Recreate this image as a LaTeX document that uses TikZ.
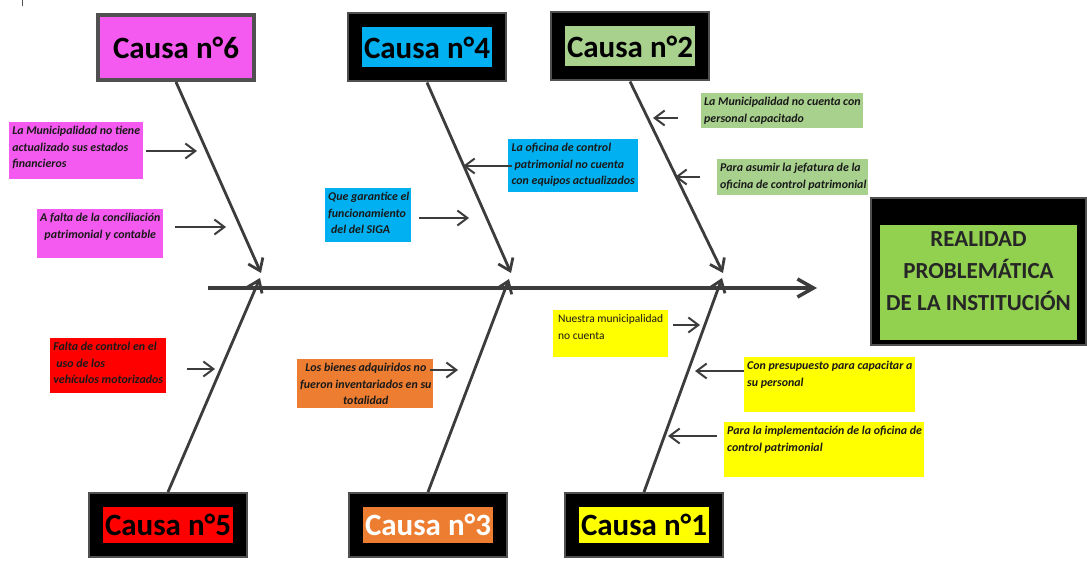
\documentclass[tikz,border=0pt]{standalone}
\usepackage{fontspec}
\setmainfont{Carlito}
\usetikzlibrary{arrows.meta}

\definecolor{pinkbox}{HTML}{F55AF0}
\definecolor{bluebox}{HTML}{00B0F0}
\definecolor{greenbox}{HTML}{A9D18E}
\definecolor{limebox}{HTML}{92D050}
\definecolor{redbox}{HTML}{FF0000}
\definecolor{orangebox}{HTML}{ED7D31}
\definecolor{yellowbox}{HTML}{FFFF00}
\definecolor{bonegray}{HTML}{3C3C3C}
\definecolor{framegray}{HTML}{505050}

% text block of a sub-cause box: [column] {width} {height} {lines}
\newcommand{\subtext}[4][l]{\parbox[t][\dimexpr#3pt-6pt\relax][t]{\dimexpr#2pt-6pt\relax}{\vspace*{-2pt}\centering\begin{tabular}{@{}#1@{}}#4\end{tabular}}}

\begin{document}
\begin{tikzpicture}[x=1pt,y=-1pt,
  causefont/.style={font=\fontsize{31}{36}\selectfont\bfseries},
  cause/.style={causefont, inner sep=0pt, minimum width=130pt, minimum height=40pt,
    outer sep=15pt, preaction={draw=framegray, line width=30pt},
    preaction={draw=black, line width=26pt}},
  lowcause/.style={cause, minimum height=36pt},
  subcause/.style={anchor=north west, inner sep=3pt,
    font=\fontsize{11.9}{16.5}\selectfont\bfseries\itshape, text=black!90},
  spine/.style={draw=bonegray, line width=3.5pt, -{Straight Barb[length=16pt,width=18pt]}},
  bone/.style={draw=bonegray, line width=2.8pt, -{Straight Barb[length=11pt,width=16pt]}},
  subarrow/.style={draw=bonegray, line width=2pt, -{Straight Barb[length=10pt,width=15pt]}}]
\useasboundingbox (0,0) rectangle (1087,561);
\draw[framegray, line width=1pt] (22,0) -- (22,6);

% effect
\node[draw=framegray, line width=2pt, fill=black, minimum width=215pt, minimum height=147pt] (frame) at (978.5,271.5) {};
\node[fill=limebox, minimum width=197pt, minimum height=115pt, anchor=south] (effect) at ([yshift=6pt]frame.south) {};
\node[font=\fontsize{23}{32}\selectfont\bfseries, align=center, text=black!85] (efftext) at (frame.center)
  {REALIDAD\\PROBLEMÁTICA\\DE LA INSTITUCIÓN};

% causes
\node[causefont, draw=framegray, line width=4pt, fill=pinkbox, minimum width=156pt, minimum height=65pt] (c6) at (176,47.5) {Causa n°6};
\node[cause, fill=bluebox] (c4) at (427,47.5) {Causa n°4};
\node[cause, fill=greenbox] (c2) at (630,46.5) {Causa n°2};
\node[lowcause, fill=redbox] (c5) at (168,525) {Causa n°5};
\node[lowcause, fill=orangebox, text=white] (c3) at (428,525) {Causa n°3};
\node[lowcause, fill=yellowbox] (c1) at (644,525) {Causa n°1};

% sub-causes
\node[subcause, fill=pinkbox] (b1) at (9,122) {\subtext{134}{57}{La Municipalidad no tiene\\actualizado sus estados\\financieros}};
\node[subcause, fill=pinkbox] (b2) at (37,209) {\subtext[c]{126}{49}{A falta de la conciliación\\patrimonial y contable}};
\node[subcause, fill=bluebox] (b3) at (325,188) {\subtext{86}{54}{Que garantice el\\funcionamiento\\\hspace*{3pt}del del SIGA}};
\node[subcause, fill=bluebox] (b4) at (508,139) {\subtext{130}{53}{La oficina de control\\\hspace*{3pt}patrimonial no cuenta\\con equipos actualizados}};
\node[subcause, fill=greenbox] (b5) at (701,93) {\subtext{162}{35}{La Municipalidad no cuenta con\\personal capacitado}};
\node[subcause, fill=greenbox] (b6) at (717,159) {\subtext{151}{36}{Para asumir la jefatura de la\\oficina de control patrimonial}};
\node[subcause, fill=redbox] (b7) at (50,338) {\subtext{116}{55}{Falta de control en el\\\hspace*{3pt}uso de los\\vehículos motorizados}};
\node[subcause, fill=orangebox] (b8) at (297,359) {\subtext[c]{136}{49}{Los bienes adquiridos no\\fueron inventariados en su\\totalidad}};
\node[subcause, fill=yellowbox, font=\fontsize{11.5}{16.5}\selectfont] (b9) at (553,310) {\subtext{115}{47}{Nuestra municipalidad\\no cuenta}};
\node[subcause, fill=yellowbox] (b10) at (744,357) {\subtext{171}{55}{Con presupuesto para capacitar a\\su personal}};
\node[subcause, fill=yellowbox] (b11) at (724,422) {\subtext{200}{55}{Para la implementación de la oficina de\\control patrimonial}};

% spine and bones
\coordinate (tail) at (208,288);
\coordinate (head) at (817,288);
\draw[spine] (tail) -- (head);
\coordinate (j6) at (261,273);
\coordinate (j4) at (511,273);
\coordinate (j2) at (723,273);
\coordinate (j5) at (260,278);
\coordinate (j3) at (509,279);
\coordinate (j1) at (722,278);
\draw[bone] (c6.south) -- (j6);
\draw[bone] (c4.south) -- (j4);
\draw[bone] (c2.south) -- (j2);
\draw[bone] (c5.north) -- (j5);
\draw[bone] (c3.north) -- (j3);
\draw[bone] (c1.north) -- (j1);

% sub-cause arrows
\coordinate (a1) at (197,151);
\coordinate (a2) at (226,227);
\coordinate (a3) at (469,218);
\coordinate (a4) at (463,166);
\coordinate (a5) at (653,118);
\coordinate (a6) at (675,177);
\coordinate (a7) at (215,369);
\coordinate (a8) at (458,370);
\coordinate (a9) at (700,325);
\coordinate (a10) at (695,371);
\coordinate (a11) at (668,436);
\draw[subarrow, shorten <=3pt] (a1 -| b1.east) -- (a1);
\draw[subarrow, shorten <=12pt] (a2 -| b2.east) -- (a2);
\draw[subarrow, shorten <=8pt] (a3 -| b3.east) -- (a3);
\draw[subarrow, shorten <=-4pt] (a4 -| b4.west) -- (a4);
\draw[subarrow, shorten <=23pt] (a5 -| b5.west) -- (a5);
\draw[subarrow, shorten <=17pt] (a6 -| b6.west) -- (a6);
\draw[subarrow, shorten <=21pt] (a7 -| b7.east) -- (a7);
\draw[subarrow, shorten <=-3pt] (a8 -| b8.east) -- (a8);
\draw[subarrow, shorten <=5pt] (a9 -| b9.east) -- (a9);
\draw[subarrow] (a10 -| b10.west) -- (a10);
\draw[subarrow, shorten <=7pt] (a11 -| b11.west) -- (a11);
\end{tikzpicture}
\end{document}
